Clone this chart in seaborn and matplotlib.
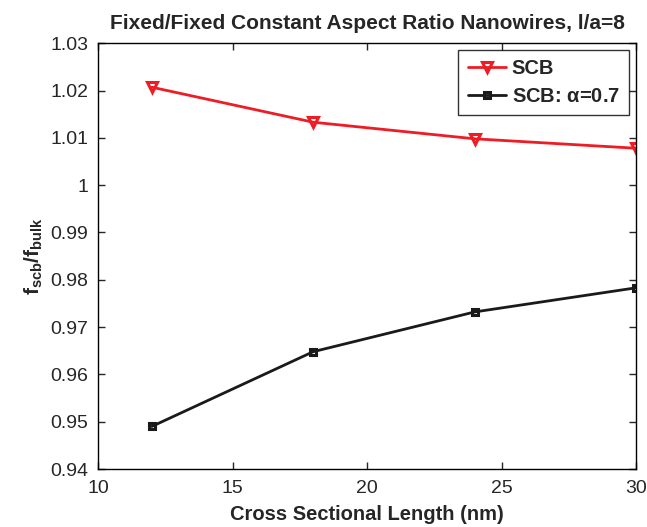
import numpy as np
import pandas as pd
import matplotlib.pyplot as plt
import seaborn as sns

length = [12, 18, 24, 30]
scb = [1.0207, 1.0133, 1.0098, 1.0078]
scb_alpha = [0.9490, 0.9648, 0.9732, 0.9783]

sns.set_style("ticks")
plt.rcParams['font.family'] = ['Liberation Sans', 'DejaVu Sans']
plt.rcParams['mathtext.fontset'] = 'custom'
plt.rcParams['mathtext.rm'] = 'Liberation Sans'
plt.rcParams['mathtext.it'] = 'Liberation Sans'
plt.rcParams['mathtext.bf'] = 'Liberation Sans:bold'

fig = plt.figure(figsize=(6.47, 5.27), dpi=100)
ax = fig.add_axes([0.1515, 0.110, 0.8315, 0.808])

df1 = pd.DataFrame({'x': length, 'y': scb})
df2 = pd.DataFrame({'x': length, 'y': scb_alpha})
sns.lineplot(data=df1, x='x', y='y', ax=ax, color='#ee1c25', lw=2,
             marker='v', markersize=7, markerfacecolor='none',
             markeredgecolor='#ee1c25', markeredgewidth=2.2, label='SCB')
sns.lineplot(data=df2, x='x', y='y', ax=ax, color='#1a1a1a', lw=2,
             marker='s', markersize=5, markerfacecolor='none',
             markeredgecolor='#1a1a1a', markeredgewidth=2.2,
             label='SCB: $\\mathregular{\\alpha}$=0.7')

ax.set_xlim(10, 30)
ax.set_ylim(0.94, 1.03)
ax.set_xticks(np.arange(10, 31, 5))
ax.set_yticks(np.arange(0.94, 1.0301, 0.01))
ax.set_yticklabels(['0.94', '0.95', '0.96', '0.97', '0.98', '0.99', '1',
                    '1.01', '1.02', '1.03'])
ax.tick_params(direction='in', top=True, right=True, labelsize=14,
               length=5, width=1)
ax.tick_params(axis='x', pad=8)
ax.tick_params(axis='y', pad=7)
for s in ax.spines.values():
    s.set_linewidth(1)
    s.set_color('black')

ax.set_xlabel('Cross Sectional Length (nm)', fontsize=14.5, fontweight='bold',
              labelpad=6)
ax.set_ylabel('$\\mathbf{f_{scb}/f_{bulk}}$', fontsize=15, labelpad=4)
ax.set_title('Fixed/Fixed Constant Aspect Ratio Nanowires, l/a=8',
             fontsize=15, fontweight='bold', pad=10)

leg = ax.legend(loc='upper right', frameon=True, fancybox=False,
                edgecolor='black', handlelength=1.9, handletextpad=0.3,
                borderaxespad=0.35, borderpad=0.45, labelspacing=0.45,
                prop={'weight': 'bold', 'size': 14.5})
leg.get_frame().set_linewidth(1)

fig.savefig('out.png', dpi=100)
